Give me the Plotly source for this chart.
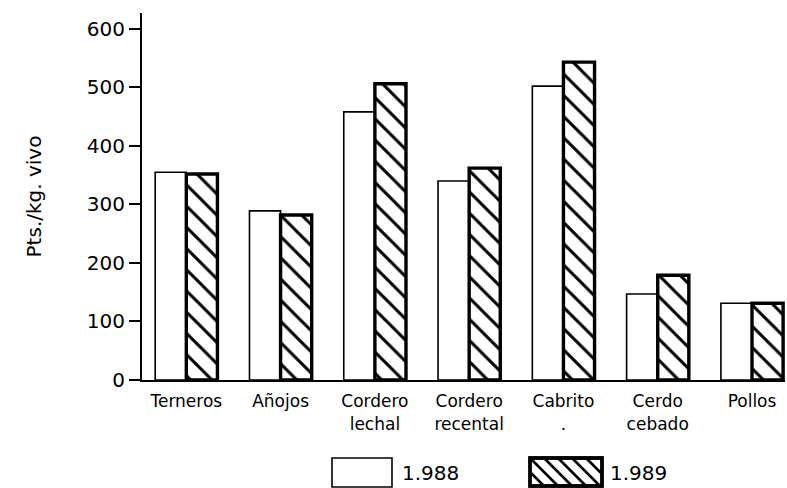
import plotly.graph_objects as go

categories = ["Terneros", "Añojos", "Cordero<br>lechal", "Cordero<br>recental",
              "Cabrito<br>.", "Cerdo<br>cebado", "Pollos"]
values_1988 = [355, 289, 458, 340, 502, 147, 131]
values_1989 = [352, 282, 506, 362, 543, 179, 131]
y_ticks = [0, 100, 200, 300, 400, 500, 600]
series_names = ["1.988", "1.989"]

W, H = 787, 488
ML, MR, MT, MB = 142, 2, 13, 108
PW, PH = W - ML - MR, H - MT - MB

FONT = "DejaVu Sans"

fig = go.Figure()
fig.add_trace(go.Bar(
    x=list(range(len(categories))), y=values_1988, name=series_names[0],
    marker=dict(color="white", line=dict(color="black", width=1.6)),
    showlegend=False,
))
fig.add_trace(go.Bar(
    x=list(range(len(categories))), y=values_1989, name=series_names[1],
    marker=dict(color="white", line=dict(color="black", width=3.4),
                pattern=dict(shape="\\", size=15, solidity=0.2, fgopacity=1,
                             fgcolor="#000000", bgcolor="#ffffff", fillmode="replace")),
    showlegend=False,
))


def px2paper(px, py):
    return (px - ML) / PW, (MT + PH - py) / PH


shapes = []
annotations = []

# legend: open box
bx0, by0, bx1, by1 = 332, 458, 392, 487
x0, y0 = px2paper(bx0, by0)
x1, y1 = px2paper(bx1, by1)
shapes.append(dict(type="rect", xref="paper", yref="paper", x0=x0, y0=y0, x1=x1, y1=y1,
                   line=dict(color="black", width=1.6), fillcolor="white"))
annotations.append(dict(xref="paper", yref="paper", x=px2paper(400, 0)[0],
                        y=px2paper(0, 473)[1], text=series_names[0], showarrow=False,
                        xanchor="left", yanchor="middle",
                        font=dict(family=FONT, size=20, color="black")))

# legend: hatched box
hx0, hy0, hx1, hy1 = 530, 458, 602, 486
step = 14
segs = []
t = hx0 - (hy1 - hy0)
while t < hx1:
    h = hy1 - hy0
    sx, sy = t, hy0
    ex, ey = t + h, hy1
    if sx < hx0:
        sy += hx0 - sx
        sx = hx0
    if ex > hx1:
        ey -= ex - hx1
        ex = hx1
    if ex > sx:
        a = px2paper(sx, sy)
        b = px2paper(ex, ey)
        segs.append(f"M{a[0]},{a[1]} L{b[0]},{b[1]}")
    t += step
shapes.append(dict(type="rect", xref="paper", yref="paper",
                   x0=px2paper(hx0, 0)[0], y0=px2paper(0, hy0)[1],
                   x1=px2paper(hx1, 0)[0], y1=px2paper(0, hy1)[1],
                   line=dict(color="black", width=3.4), fillcolor="white"))
shapes.append(dict(type="path", xref="paper", yref="paper", path=" ".join(segs),
                   line=dict(color="black", width=2.6)))
shapes.append(dict(type="rect", xref="paper", yref="paper",
                   x0=px2paper(hx0, 0)[0], y0=px2paper(0, hy0)[1],
                   x1=px2paper(hx1, 0)[0], y1=px2paper(0, hy1)[1],
                   line=dict(color="black", width=3.4)))
annotations.append(dict(xref="paper", yref="paper", x=px2paper(608, 0)[0],
                        y=px2paper(0, 473)[1], text=series_names[1], showarrow=False,
                        xanchor="left", yanchor="middle",
                        font=dict(family=FONT, size=20, color="black")))

fig.update_layout(
    width=W, height=H,
    margin=dict(l=ML, r=MR, t=MT, b=MB),
    paper_bgcolor="white", plot_bgcolor="white",
    barmode="group", bargap=0.34, bargroupgap=0,
    shapes=shapes, annotations=annotations,
    font=dict(family=FONT, color="black"),
)
fig.update_xaxes(
    tickmode="array", tickvals=list(range(len(categories))), ticktext=categories,
    range=[-0.47, 6.35], showgrid=False, zeroline=False,
    showline=True, linecolor="black", linewidth=2, ticks="",
    ticklabelstandoff=5,
    tickfont=dict(family=FONT, size=17, color="black"),
)
fig.update_yaxes(
    range=[0, 627], tickmode="array", tickvals=y_ticks,
    showgrid=False, zeroline=False, showline=True, linecolor="black", linewidth=2,
    ticks="outside", ticklen=11, tickwidth=2, tickcolor="black",
    tickfont=dict(family=FONT, size=20, color="black"),
    title=dict(text="Pts./kg. vivo", font=dict(family=FONT, size=20, color="black"),
               standoff=40),
)

fig.write_html("out.html", config={"displayModeBar": False},
               post_script="document.body.style.margin='0';document.body.style.overflow='hidden';")
